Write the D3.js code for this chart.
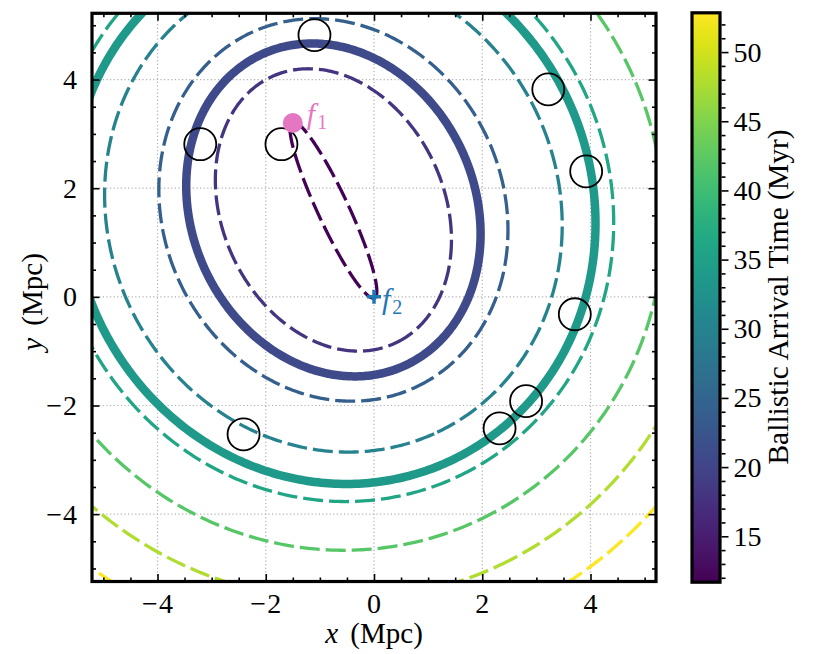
<!DOCTYPE html>
<html>
<head>
<meta charset="utf-8">
<script src="https://cdn.jsdelivr.net/npm/d3@7"></script>
<style>
body { margin: 0; background: #fff; }
text { font-family: "Liberation Serif", "DejaVu Serif", serif; }
</style>
</head>
<body>
<div id="chart"></div>
<script>
// foci of the ellipses (Mpc)
const focus1 = [-1.5, 3.2];
const focus2 = [0, 0];

// dashed contours: arrival time (Myr) and summed distance to both foci (Mpc)
const dashedLevels = [12, 18, 24, 30, 36, 42, 48, 54];
const dashedSums = [3.58, 5.41, 7.2, 9.04, 10.84, 12.62, 14.45, 16.22];

// thick highlighted contours
const solidLevels = [21, 34];
const solidSums = [6.31, 10.2];

// open black circles
const circleX = [-1.10, 3.22, -3.21, -1.71, 3.92, 3.71, 2.81, 2.32, -2.41];
const circleY = [4.82, 3.82, 2.81, 2.81, 2.31, -0.32, -1.92, -2.42, -2.53];

// ticks
const axisTicks = [-4, -2, 0, 2, 4];
const cbarTicks = [15, 20, 25, 30, 35, 40, 45, 50];
const cbarDomain = [11.68, 52.84];

const width = 831, height = 654;
const plot = { left: 92, right: 656, top: 13.3, bottom: 581.5 };

const svg = d3.select("#chart").append("svg")
    .attr("width", width)
    .attr("height", height);

const x = d3.scaleLinear().domain([-5.21, 5.21]).range([plot.left, plot.right]);
const y = d3.scaleLinear().domain([-5.24, 5.22]).range([plot.bottom, plot.top]);
const color = d3.scaleSequential(d3.interpolateViridis).domain(cbarDomain).clamp(true);

svg.append("clipPath").attr("id", "clip")
    .append("rect")
    .attr("x", plot.left).attr("y", plot.top)
    .attr("width", plot.right - plot.left).attr("height", plot.bottom - plot.top);

// grid
const grid = svg.append("g").attr("class", "grid");
grid.selectAll(".gx").data(axisTicks).enter().append("line")
    .attr("x1", d => x(d)).attr("x2", d => x(d))
    .attr("y1", plot.top).attr("y2", plot.bottom);
grid.selectAll(".gy").data(axisTicks).enter().append("line")
    .attr("y1", d => y(d)).attr("y2", d => y(d))
    .attr("x1", plot.left).attr("x2", plot.right);
grid.selectAll("line")
    .attr("stroke", "#b0b0b0")
    .attr("stroke-width", 1.2)
    .attr("stroke-dasharray", "1.2,2.4");

// ellipse of constant summed distance to both foci, sampled through the scales
function ellipsePath(sum) {
    const cx = (focus1[0] + focus2[0]) / 2, cy = (focus1[1] + focus2[1]) / 2;
    const dx = focus2[0] - focus1[0], dy = focus2[1] - focus1[1];
    const c = Math.hypot(dx, dy) / 2;
    const a = sum / 2, b = Math.sqrt(Math.max(a * a - c * c, 0));
    const ux = dx / (2 * c), uy = dy / (2 * c);
    const pts = d3.range(0, 2 * Math.PI, Math.PI / 240).map(t => [
        cx + a * Math.cos(t) * ux - b * Math.sin(t) * uy,
        cy + a * Math.cos(t) * uy + b * Math.sin(t) * ux
    ]);
    return d3.line().x(d => x(d[0])).y(d => y(d[1])).curve(d3.curveLinearClosed)(pts);
}

const contours = svg.append("g").attr("clip-path", "url(#clip)");

const dashed = dashedLevels.map((lv, i) => ({ level: lv, sum: dashedSums[i] }));
const solid = solidLevels.map((lv, i) => ({ level: lv, sum: solidSums[i] }));

contours.selectAll(".dashed").data(dashed).enter().append("path")
    .attr("d", d => ellipsePath(d.sum))
    .attr("fill", "none")
    .attr("stroke", d => color(d.level))
    .attr("stroke-width", 3.3)
    .attr("stroke-dasharray", "20,6");

contours.selectAll(".solid").data(solid).enter().append("path")
    .attr("d", d => ellipsePath(d.sum))
    .attr("fill", "none")
    .attr("stroke", d => color(d.level))
    .attr("stroke-width", 8.5);

// open circles
contours.selectAll(".circ").data(circleX).enter().append("circle")
    .attr("cx", d => x(d))
    .attr("cy", (d, i) => y(circleY[i]))
    .attr("r", 16)
    .attr("fill", "none")
    .attr("stroke", "#000")
    .attr("stroke-width", 1.8);

// foci markers
svg.append("circle")
    .attr("cx", x(focus1[0])).attr("cy", y(focus1[1]))
    .attr("r", 10).attr("fill", "#e377c2");

svg.append("path")
    .attr("d", `M${x(focus2[0]) - 7},${y(focus2[1])}h14M${x(focus2[0])},${y(focus2[1]) - 7}v14`)
    .attr("stroke", "#1f77b4").attr("stroke-width", 3.5);

function focusLabel(px, py, sub, fill) {
    const t = svg.append("text").attr("x", px).attr("y", py).attr("fill", fill);
    t.append("tspan").style("font-style", "italic").style("font-size", "30px").text("f");
    t.append("tspan").attr("dx", 2).attr("dy", 5).style("font-size", "20px").text(sub);
}
focusLabel(x(focus1[0]) + 14, y(focus1[1]) + 1, "1", "#e377c2");
focusLabel(x(focus2[0]) + 8, y(focus2[1]) + 12, "2", "#1f77b4");

// axes
const minorTicks = d3.range(-5, 5.01, 0.5).filter(v => !axisTicks.includes(v));
const fmt = d => d < 0 ? "\u2212" + Math.abs(d) : String(d);

function drawAxis(axisFn, scale, transform, showLabels, pad) {
    svg.append("g").attr("transform", transform)
        .call(axisFn(scale).tickValues(minorTicks).tickSize(-4).tickFormat(""))
        .call(g => g.select(".domain").remove());
    const g = svg.append("g").attr("transform", transform)
        .call(axisFn(scale).tickValues(axisTicks).tickSize(-7.5).tickPadding(pad)
            .tickFormat(showLabels ? fmt : ""))
        .call(g => g.select(".domain").remove());
    g.selectAll("text").style("font-size", "28px").attr("fill", "#000")
        .style("font-family", "'Liberation Serif', serif")
        .style("letter-spacing", "1px");
}
drawAxis(d3.axisBottom, x, `translate(0,${plot.bottom})`, true, 12);
drawAxis(d3.axisTop, x, `translate(0,${plot.top})`, false, 13);
drawAxis(d3.axisLeft, y, `translate(${plot.left},0)`, true, 14);
drawAxis(d3.axisRight, y, `translate(${plot.right},0)`, false, 15);
svg.selectAll(".tick line").attr("stroke-width", 1.6);

// frame
svg.append("rect")
    .attr("x", plot.left).attr("y", plot.top)
    .attr("width", plot.right - plot.left).attr("height", plot.bottom - plot.top)
    .attr("fill", "none").attr("stroke", "#000").attr("stroke-width", 3.2);

// axis labels
const xl = svg.append("text").attr("x", 374).attr("y", 643)
    .attr("text-anchor", "middle").style("font-size", "29px");
xl.append("tspan").style("font-style", "italic").text("x");
xl.append("tspan").attr("dx", 5).text(" (Mpc)");

const yl = svg.append("text").attr("transform", "translate(42,302) rotate(-90)")
    .attr("text-anchor", "middle").style("font-size", "29px");
yl.append("tspan").style("font-style", "italic").text("y");
yl.append("tspan").attr("dx", 5).text(" (Mpc)");

// colorbar
const cbar = { x: 692, w: 28, top: 12.8, bottom: 582.2 };
const cy = d3.scaleLinear().domain(cbarDomain).range([cbar.bottom, cbar.top]);

const grad = svg.append("defs").append("linearGradient")
    .attr("id", "viridis").attr("x1", 0).attr("x2", 0).attr("y1", 1).attr("y2", 0);
grad.selectAll("stop").data(d3.range(0, 1.001, 0.02)).enter().append("stop")
    .attr("offset", d => d)
    .attr("stop-color", d => d3.interpolateViridis(d));

svg.append("rect")
    .attr("x", cbar.x).attr("y", cbar.top)
    .attr("width", cbar.w).attr("height", cbar.bottom - cbar.top)
    .attr("fill", "url(#viridis)")
    .attr("stroke", "#000").attr("stroke-width", 3.2);

const cbMinor = d3.range(12, 53, 1).filter(v => !cbarTicks.includes(v));
svg.append("g").attr("transform", `translate(${cbar.x + cbar.w + 1.5},0)`)
    .call(d3.axisRight(cy).tickValues(cbMinor).tickSize(4).tickFormat(""))
    .call(g => g.select(".domain").remove());
const cg = svg.append("g").attr("transform", `translate(${cbar.x + cbar.w + 1.5},0)`)
    .call(d3.axisRight(cy).tickValues(cbarTicks).tickSize(7).tickPadding(5))
    .call(g => g.select(".domain").remove());
cg.selectAll("text").style("font-size", "28px").attr("fill", "#000")
    .style("font-family", "'Liberation Serif', serif");
svg.selectAll(".tick line").attr("stroke-width", 1.6);

svg.append("text").attr("transform", "translate(788,297) rotate(-90)")
    .attr("text-anchor", "middle").style("font-size", "29.5px")
    .text("Ballistic Arrival Time (Myr)");
</script>
</body>
</html>
